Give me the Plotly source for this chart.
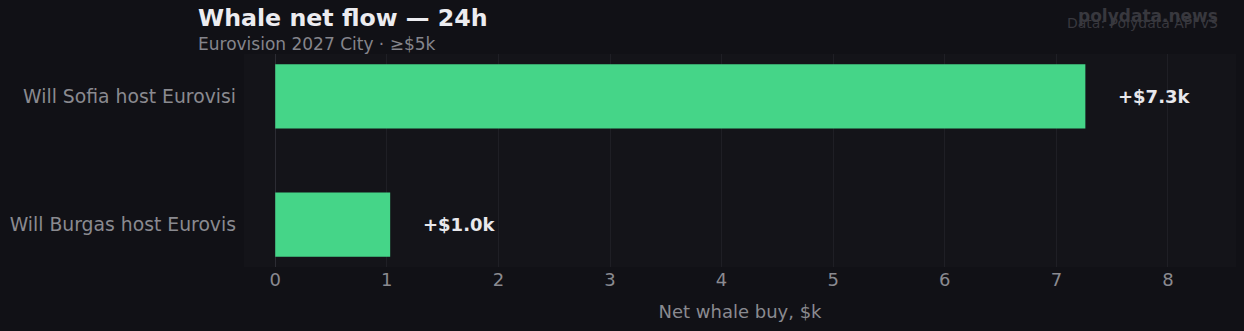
import plotly.graph_objects as go

categories = ["Will Burgas host Eurovis", "Will Sofia host Eurovisi"]
values = [1.03, 7.26]
labels = ["+$1.0k", "+$7.3k"]
x_ticks = [0, 1, 2, 3, 4, 5, 6, 7, 8]

PAPER = "#111116"
PLOT = "#141419"
BAR = "#45d588"
FONT = "DejaVu Sans"

fig = go.Figure()
fig.add_trace(go.Bar(
    x=values, y=categories, orientation="h",
    marker=dict(color=BAR, line=dict(width=0)),
    width=0.5, hoverinfo="skip",
))

for v, c, t in zip(values, categories, labels):
    fig.add_annotation(x=v, y=c, text=f"<b>{t}</b>", showarrow=False,
                       xanchor="left", xshift=31,
                       font=dict(family=FONT, size=18, color="#e8e8ec"))

L, R, T, B = 244, 8, 54, 64
W, H = 1244, 331
pw, ph = W - L - R, H - T - B

def px(x):
    return (x - L) / pw

def py(y):
    return (H - B - y) / ph

fig.add_annotation(xref="paper", yref="paper", x=px(196), y=py(18),
                   text="<b>Whale net flow — 24h</b>", showarrow=False,
                   xanchor="left", yanchor="middle",
                   font=dict(family=FONT, size=23.7, color="#ececf0"))
fig.add_annotation(xref="paper", yref="paper", x=px(196), y=py(44),
                   text="Eurovision 2027 City · ≥$5k", showarrow=False,
                   xanchor="left", yanchor="middle",
                   font=dict(family=FONT, size=17, color="#85858c"))
fig.add_annotation(xref="paper", yref="paper", x=px(1220), y=py(16),
                   text="<b>polydata.news</b>", showarrow=False,
                   xanchor="right", yanchor="middle",
                   font=dict(family=FONT, size=17, color="#38383e"))
fig.add_annotation(xref="paper", yref="paper", x=px(1220), y=py(23),
                   text="Data: Polydata API v3", showarrow=False,
                   xanchor="right", yanchor="middle",
                   font=dict(family=FONT, size=14, color="#38383e"))

fig.update_layout(
    width=W, height=H,
    margin=dict(l=L, r=R, t=T, b=B),
    paper_bgcolor=PAPER, plot_bgcolor=PLOT,
    showlegend=False,
    font=dict(family=FONT, size=18, color="#8a8a90"),
    xaxis=dict(range=[-0.28, 8.61], tickvals=x_ticks,
               showgrid=True, gridcolor="#1f1f25", gridwidth=1,
               zeroline=True, zerolinecolor="#2c2c33", zerolinewidth=1,
               showline=False, ticks="",
               title=dict(text="Net whale buy, $k", standoff=16,
                          font=dict(size=18, color="#8a8a90")),
               tickfont=dict(size=18, color="#8a8a90")),
    yaxis=dict(range=[-0.33, 1.33], showgrid=False, zeroline=False,
               ticks="", ticklabelstandoff=7,
               tickfont=dict(size=18.8, color="#8a8a90")),
)

fig.write_html("out.html")
